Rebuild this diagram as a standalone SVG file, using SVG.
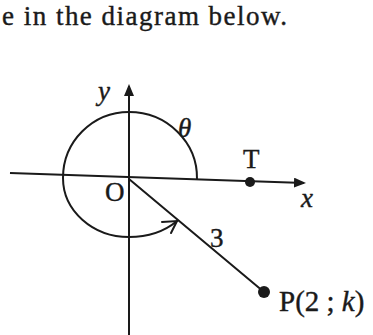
<svg xmlns="http://www.w3.org/2000/svg" width="373" height="335" viewBox="0 0 373 335">
<style>
.ln{stroke:#1a1a1a;stroke-width:2;fill:none;stroke-linecap:round}
.t{font-family:"Liberation Serif","Times New Roman",serif;fill:#1a1a1a;stroke:#1a1a1a;stroke-width:0.4}
.i{font-style:italic}
</style>
<defs>
<marker id="ah" markerWidth="12" markerHeight="10" refX="10" refY="5" orient="auto" markerUnits="userSpaceOnUse">
<path d="M0,0 L12,5 L0,10 Z" fill="#1a1a1a"/>
</marker>
</defs>
<rect width="373" height="335" fill="#fff"/>
<text class="t" x="2" y="25" font-size="27" textLength="285" lengthAdjust="spacing">e in the diagram below.</text>
<g id="connectors">
<line id="x-axis" class="ln" x1="10" y1="173" x2="304" y2="183" marker-end="url(#ah)" style="stroke-linecap:butt"/>
<line id="y-axis" class="ln" x1="129" y1="335" x2="129" y2="86" marker-end="url(#ah)" style="stroke-linecap:butt"/>
<line id="OP" class="ln" x1="129" y1="179" x2="264" y2="292"/>
<path id="angle-arc" class="ln" d="M197,179 A68,66 0 0 0 129,112 A66,66 0 0 0 63,178 A66,59 0 0 0 129,237 C150,237 165,231 177,221"/>
<path id="arc-arrow" class="ln" d="M162,222 L177,221 L171,233"/>
</g>
<g id="O"><text class="t" x="105" y="201" font-size="27">O</text></g>
<g id="y-label"><text class="t i" x="98" y="100" font-size="27">y</text></g>
<g id="x-label"><text class="t i" x="301" y="207" font-size="27">x</text></g>
<g id="theta"><text class="t i" x="178" y="137" font-size="27">θ</text></g>
<g id="T"><circle cx="250" cy="182" r="5" fill="#1a1a1a"/><text class="t" x="243" y="168" font-size="27">T</text></g>
<g id="len"><text class="t" x="210" y="247" font-size="27">3</text></g>
<g id="P"><circle cx="264" cy="292" r="6" fill="#1a1a1a"/><text class="t" x="279" y="311" font-size="29">P(2 ; <tspan class="i">k</tspan>)</text></g>
</svg>
